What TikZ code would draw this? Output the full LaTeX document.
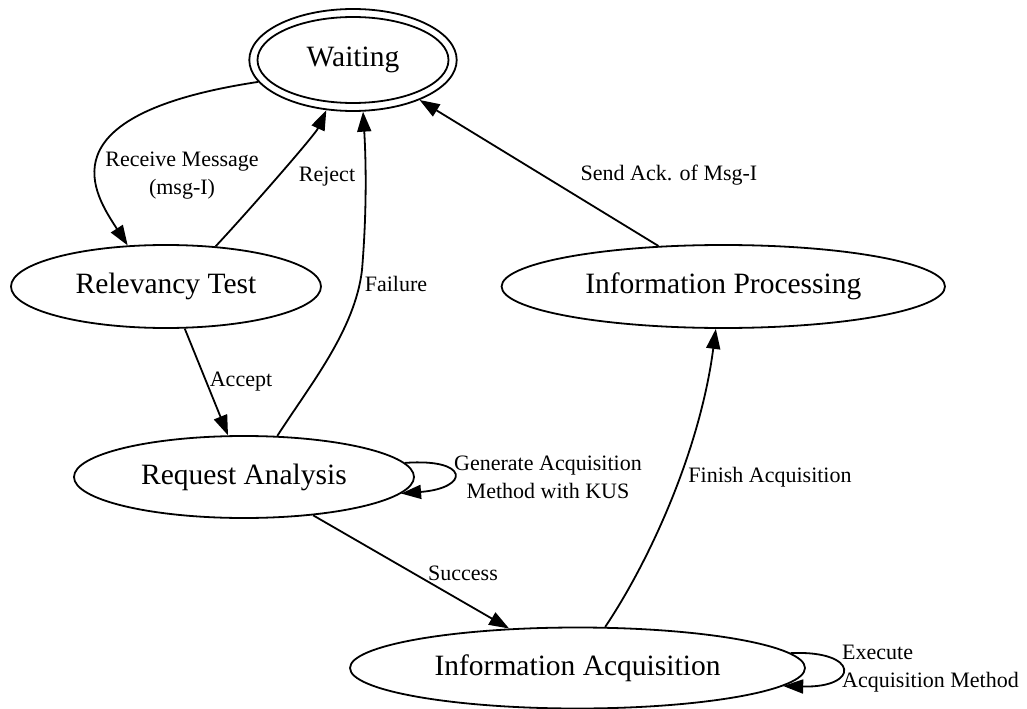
\documentclass[tikz,border=0pt]{standalone}
\usepackage{fontspec}
\setmainfont{Liberation Serif}
\usetikzlibrary{arrows.meta,shapes.geometric}
\begin{document}
\begin{tikzpicture}[x=1bp,y=-1bp,
  state/.style={ellipse, draw, line width=1.8bp, inner sep=0pt,
    font=\fontsize{29.5bp}{35bp}\selectfont},
  edge/.style={line width=1.8bp, -{Triangle[length=20bp,width=14bp]}},
  lbl/.style={font=\fontsize{22bp}{28bp}\selectfont, inner sep=0pt, align=center}]
\useasboundingbox (0,0) rectangle (1027,709);

% states
\node[state, minimum width=207.4bp, minimum height=102bp] (waiting) at (353,60) {Waiting};
\draw[line width=1.8bp] (waiting.center) ellipse [x radius=95.5bp, y radius=43bp];
\node[state, minimum width=310bp, minimum height=83bp] (rt) at (166,286.5) {Relevancy Test};
\node[state, minimum width=443.4bp, minimum height=83bp] (ip) at (723.3,286.5) {Information Processing};
\node[state, minimum width=340bp, minimum height=82bp] (ra) at (244,477) {Request Analysis};
\node[state, minimum width=455bp, minimum height=81bp] (ia) at (577.5,668) {Information Acquisition};

% transitions
\draw[edge] (waiting.193.6) .. controls (40,115) and (95,195) .. (rt.133.2);
\draw[edge] (rt.39.1) .. controls (245,215) and (315,135) .. (waiting.242.5);
\draw[edge] (ra.51.2) .. controls (310,385) and (355,330) .. (362,270)
  .. controls (367,210) and (366,160) .. (waiting.281.8);
\draw[edge] (rt.294) -- (ra.111.8);
\draw[edge] (ra.5.5) .. controls (470,458) and (470,488) .. (ra.354.1);
\draw[edge] (ra.331.2) -- (ia.150);
\draw[edge] (ia.56.1) .. controls (650,560) and (700,450) .. (ip.260);
\draw[edge] (ia.4.5) .. controls (860,650) and (860,688) .. (ia.355.4);
\draw[edge] (ip.148) -- (waiting.329.4);

% transition labels
\node[lbl] (lrecv) at (182,176) {Receive Message\\(msg-I)};
\node[lbl] (lrej) at (327,177) {Reject};
\node[lbl] (lfail) at (396,284) {Failure};
\node[lbl] (lacc) at (241,382) {Accept};
\node[lbl] (lgen) at (548,477) {Generate Acquisition\\Method with KUS};
\node[lbl] (lsucc) at (463,573) {Success};
\node[lbl] (lfin) at (770,477) {Finish Acquisition};
\node[lbl] (lack) at (669,175) {Send Ack. of Msg-I};
\node[lbl, align=left, anchor=west] (lexec) at (842,669) {Execute\\Acquisition Method};
\end{tikzpicture}
\end{document}
